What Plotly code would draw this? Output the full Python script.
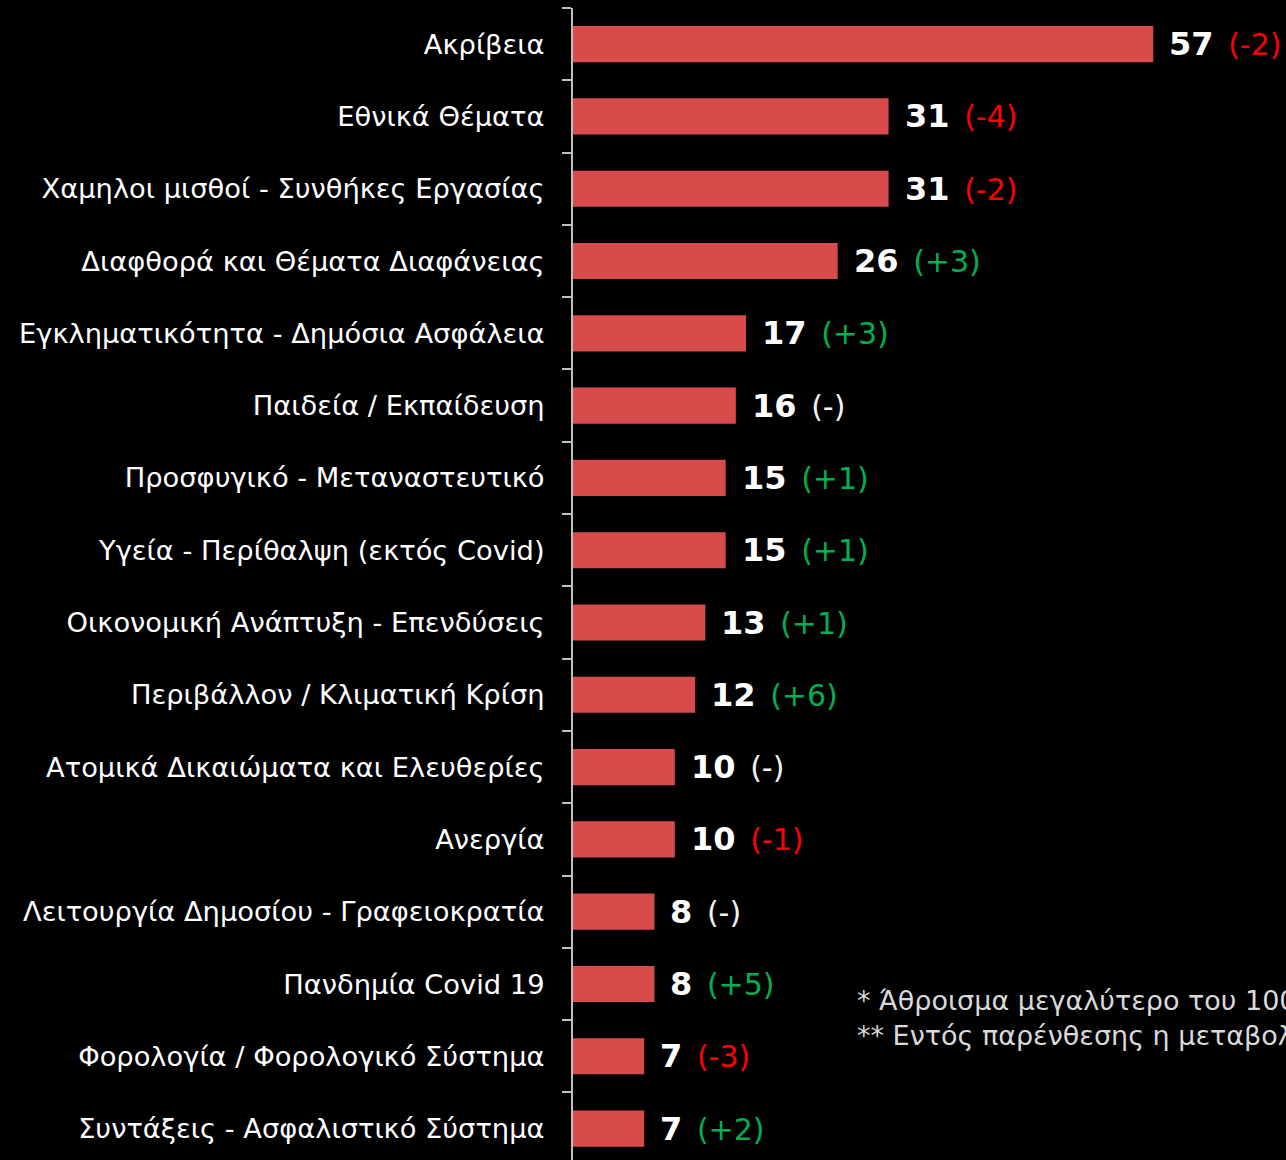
import plotly.graph_objects as go

categories = [
    "Ακρίβεια",
    "Εθνικά Θέματα",
    "Χαμηλοι μισθοί - Συνθήκες Εργασίας",
    "Διαφθορά και Θέματα Διαφάνειας",
    "Εγκληματικότητα - Δημόσια Ασφάλεια",
    "Παιδεία / Εκπαίδευση",
    "Προσφυγικό - Μεταναστευτικό",
    "Υγεία - Περίθαλψη (εκτός Covid)",
    "Οικονομική Ανάπτυξη - Επενδύσεις",
    "Περιβάλλον / Κλιματική Κρίση",
    "Ατομικά Δικαιώματα και Ελευθερίες",
    "Ανεργία",
    "Λειτουργία Δημοσίου - Γραφειοκρατία",
    "Πανδημία Covid 19",
    "Φορολογία / Φορολογικό Σύστημα",
    "Συντάξεις - Ασφαλιστικό Σύστημα",
]
values = [57, 31, 31, 26, 17, 16, 15, 15, 13, 12, 10, 10, 8, 8, 7, 7]
changes = ["-2", "-4", "-2", "+3", "+3", "-", "+1", "+1", "+1", "+6", "-", "-1", "-", "+5", "-3", "+2"]
footnotes = [
    "* Άθροισμα μεγαλύτερο του 100%",
    "** Εντός παρένθεσης η μεταβολή",
]

FONT = "DejaVu Sans"
BAR = "#d84b4b"

def change_color(c):
    if c.startswith("+"):
        return "#00b050"
    if c == "-":
        return "#f2f2f2"
    return "#ff0000"

fig = go.Figure(go.Bar(
    x=values, y=categories, orientation="h",
    marker=dict(color=BAR, line=dict(width=0)),
    width=0.5,
))

for cat, v, c in zip(categories, values, changes):
    fig.add_annotation(
        x=v, y=cat, xref="x", yref="y", xanchor="left", yanchor="middle",
        xshift=14, showarrow=False,
        text=(f"<b>{v}</b> <span style='font-size:14px'> </span>"
              f"<span style='color:{change_color(c)};font-size:30px'>({c})</span>"),
        font=dict(family=FONT, size=32, color="white"),
    )

L, T, W, H = 573, 8, 1286, 1160
foot_px = [(855, 1000), (855, 1035)]
for t, (px, py) in zip(footnotes, foot_px):
    fig.add_annotation(
        x=(px - L) / (W - L), y=1 - (py - T) / (H - T), xref="paper", yref="paper",
        xanchor="left", yanchor="middle", showarrow=False,
        text=t, font=dict(family=FONT, size=27, color="#d9d9d9"),
    )

fig.update_layout(
    width=W, height=H,
    margin=dict(l=L, r=0, t=T, b=0, autoexpand=False),
    paper_bgcolor="black", plot_bgcolor="black",
    showlegend=False,
    xaxis=dict(range=[0, 70.04], visible=False, fixedrange=True),
    yaxis=dict(
        categoryorder="array", categoryarray=categories,
        range=[15.435, -0.5], autorange=False, fixedrange=True,
        showline=True, linecolor="#bfbfbf", linewidth=2,
        ticks="outside", tickson="boundaries", ticklen=9, tickcolor="#bfbfbf", tickwidth=2,
        tickfont=dict(family=FONT, size=27.3, color="white"),
        ticklabelstandoff=21,
        showgrid=False, zeroline=False,
    ),
)

fig.write_html(
    "out.html",
    config={"displayModeBar": False},
    post_script="document.body.style.margin='0';document.body.style.background='black';",
)
